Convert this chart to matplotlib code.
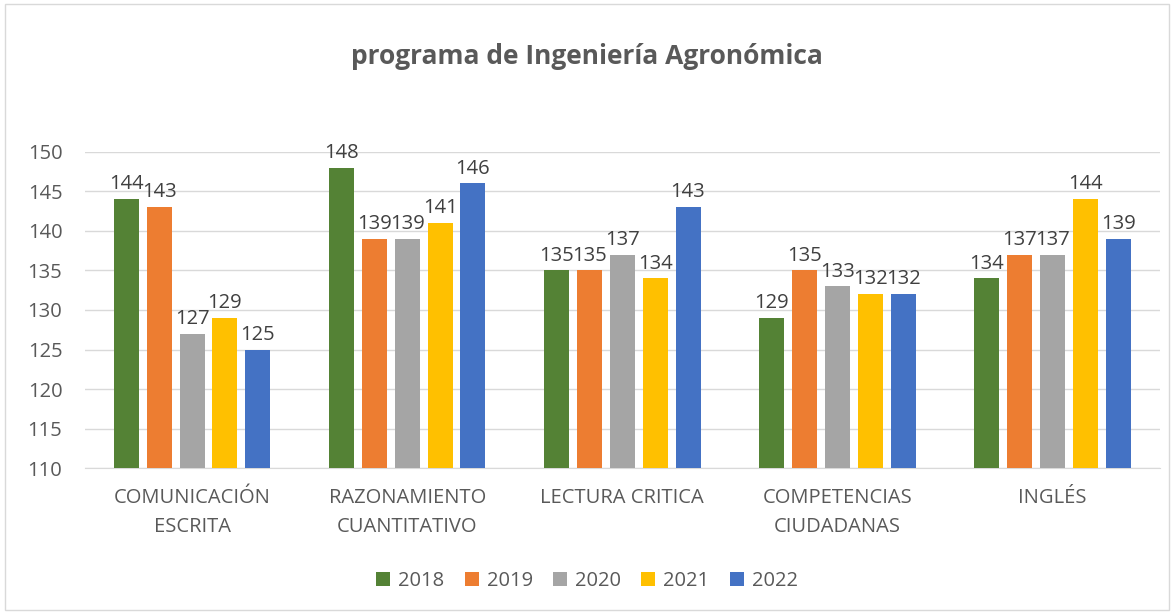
import matplotlib.pyplot as plt
import numpy as np
from matplotlib.patches import Rectangle

categories = ["COMUNICACIÓN\nESCRITA", "RAZONAMIENTO\nCUANTITATIVO", "LECTURA CRITICA",
              "COMPETENCIAS\nCIUDADANAS", "INGLÉS"]
years = ["2018", "2019", "2020", "2021", "2022"]
v2018 = [144, 148, 135, 129, 134]
v2019 = [143, 139, 135, 135, 137]
v2020 = [127, 139, 137, 133, 137]
v2021 = [129, 141, 134, 132, 144]
v2022 = [125, 146, 143, 132, 139]
series = [v2018, v2019, v2020, v2021, v2022]
colors = ["#548235", "#ED7D31", "#A5A5A5", "#FFC000", "#4472C4"]

plt.rcParams['font.family'] = ['Open Sans', 'DejaVu Sans']

fig = plt.figure(figsize=(11.74, 6.12), dpi=100)
ax = fig.add_axes([0.072, 0.235, 0.916, 0.517])

x = np.arange(len(categories))
width = 0.116
step = 0.153
for i, (vals, col, yr) in enumerate(zip(series, colors, years)):
    pos = x + (i - 2) * step
    ax.bar(pos, np.array(vals) - 110, width, bottom=110, color=col, label=yr, zorder=3)
    for p, v in zip(pos, vals):
        ax.text(p, v + 0.6, str(v), ha='center', va='bottom', fontsize=14.5,
                color='#404040', clip_on=False, zorder=4)

ax.set_ylim(110, 150)
ax.set_xlim(-0.5, len(categories) - 0.5)
ax.set_yticks(range(110, 151, 5))
ax.tick_params(axis='y', length=0, labelsize=14.5, labelcolor='#595959', pad=16)
ax.tick_params(axis='x', length=0, labelsize=14.5, labelcolor='#595959', pad=14)
ax.set_xticks(x)
ax.set_xticklabels(categories, linespacing=1.65)
ax.grid(axis='y', color='#D9D9D9', linewidth=1, zorder=0)
for s in ['top', 'right', 'left']:
    ax.spines[s].set_visible(False)
ax.spines['bottom'].set_color('#D9D9D9')

fig.text(0.5, 0.907, "programa de Ingeniería Agronómica", ha='center', va='center',
         fontsize=19, fontweight='bold', color='#595959')

fig.legend(loc='center', bbox_to_anchor=(0.5, 0.05), ncol=5, frameon=False,
           fontsize=14.5, handlelength=0.7, handleheight=0.7, columnspacing=1.0,
           handletextpad=0.4, labelcolor='#595959')

fig.patches.append(Rectangle((0.004, 0.004), 0.992, 0.99, transform=fig.transFigure,
                             fill=False, edgecolor='#D9D9D9', linewidth=1))

fig.savefig("out.png", dpi=100)
